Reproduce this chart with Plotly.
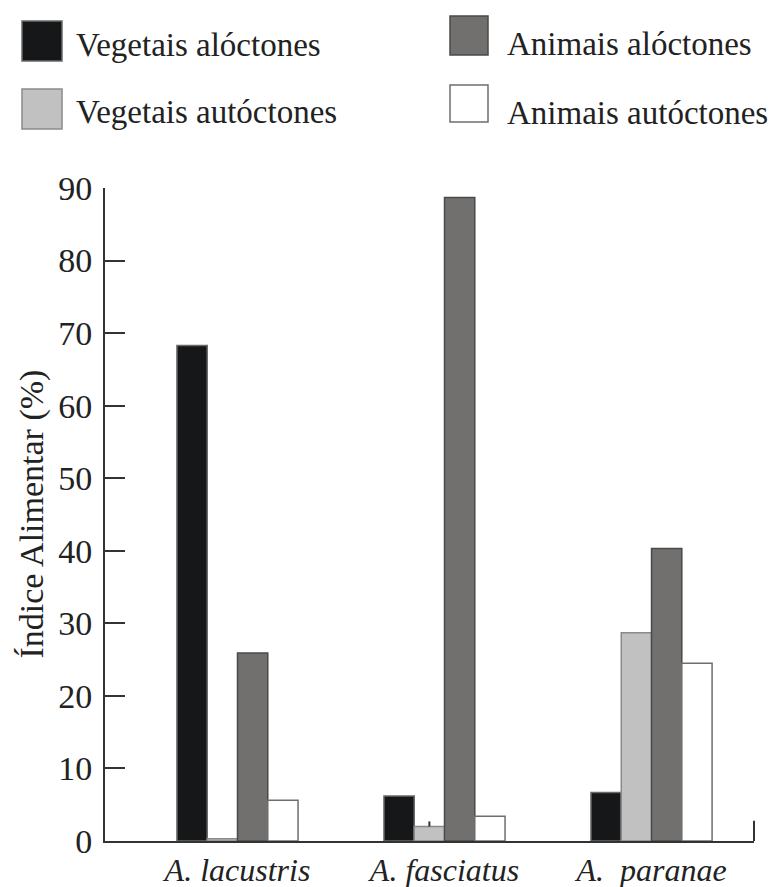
import plotly.graph_objects as go

species = ["A. lacustris", "A. fasciatus", "A.  paranae"]
series_names = ["Vegetais alóctones", "Vegetais autóctones", "Animais alóctones", "Animais autóctones"]
veg_aloc = [68.3, 6.2, 6.7]
veg_autoc = [0.3, 2.0, 28.7]
ani_aloc = [25.9, 88.7, 40.3]
ani_autoc = [5.6, 3.4, 24.5]
veg_autoc_err = [0, 0.7, 0]
y_ticks = [0, 10, 20, 30, 40, 50, 60, 70, 80, 90]

colors = ["#161719", "#c1c1c1", "#72706e", "#ffffff"]
edges = ["#6a6a6a", "#8a8a8a", "#4a4a4a", "#6e6e6e"]
values = [veg_aloc, veg_autoc, ani_aloc, ani_autoc]

FONT = "Liberation Serif"
W, H = 773, 887
L, R, T, B = 105, 19, 188, 46
PW, PH = W - L - R, H - T - B

def xp(X):
    return (X - L) / PW

def yp(Y):
    return (H - B - Y) / PH

xpos = list(range(len(species)))
fig = go.Figure()
for i, (name, vals) in enumerate(zip(series_names, values)):
    kw = {}
    if i == 1:
        kw["error_y"] = dict(type="data", array=veg_autoc_err, arrayminus=[0] * len(species),
                             symmetric=False, color="#333333", thickness=2, width=0)
    fig.add_trace(go.Bar(x=xpos, y=vals, name=name, marker=dict(color=colors[i],
                         line=dict(color=edges[i], width=1.5)), showlegend=False, **kw))

fig.update_layout(
    width=W, height=H, margin=dict(l=L, r=R, t=T, b=B, pad=0, autoexpand=False),
    barmode="group", bargap=0.415, bargroupgap=0,
    plot_bgcolor="white", paper_bgcolor="white",
    font=dict(family=FONT, color="#222222", size=33),
)
fig.update_xaxes(range=[-0.64, 2.495], tickvals=xpos,
                 ticktext=["<i>%s</i>" % s for s in species],
                 tickfont=dict(family=FONT, size=32, color="#222222"),
                 showline=True, linecolor="#333333", linewidth=2, ticks="",
                 showgrid=False, zeroline=False, ticklabelstandoff=0, automargin=False)
fig.update_yaxes(range=[0, 90], tickvals=y_ticks, ticks="inside", ticklen=20, tickwidth=2,
                 tickcolor="#333333", showline=True, linecolor="#333333", linewidth=2,
                 tickfont=dict(family=FONT, size=34, color="#222222"),
                 showgrid=False, zeroline=False, ticklabelstandoff=4, automargin=False)

# right end tick of the x axis
fig.add_shape(type="line", xref="x domain", yref="y", x0=1, x1=1, y0=0, y1=2.8,
              line=dict(color="#333333", width=2))

# y-axis title
fig.add_annotation(text="Índice Alimentar (%)", xref="paper", yref="paper",
                   x=xp(31), y=0.5, textangle=-90, showarrow=False,
                   font=dict(family=FONT, size=34, color="#222222"),
                   xanchor="center", yanchor="middle")

# custom legend
legend_boxes = [(22, 62, 21, 61), (22, 62, 89, 129), (450, 488, 16, 55), (450, 488, 85, 122)]
legend_text = [(74, 45), (74, 112), (505, 44), (505, 113)]
for i, name in enumerate(series_names):
    x0, x1, y0, y1 = legend_boxes[i]
    fig.add_shape(type="rect", xref="paper", yref="paper",
                  x0=xp(x0), x1=xp(x1), y0=yp(y1), y1=yp(y0),
                  fillcolor=colors[i], line=dict(color=edges[i], width=1.5))
    tx, ty = legend_text[i]
    fig.add_annotation(text=name, xref="paper", yref="paper", x=xp(tx), y=yp(ty),
                       xanchor="left", yanchor="middle", showarrow=False,
                       font=dict(family=FONT, size=33, color="#222222"))

fig.write_html("out.html")
